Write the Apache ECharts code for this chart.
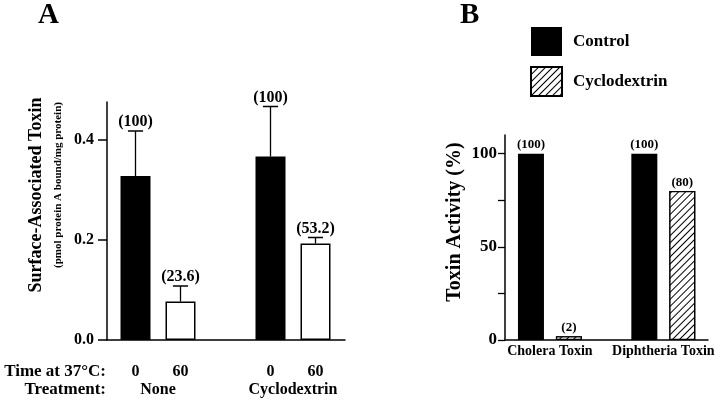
<!DOCTYPE html>
<html>
<head>
<meta charset="utf-8">
<script src="https://cdn.jsdelivr.net/npm/echarts@6/dist/echarts.min.js"></script>
<style>html,body{margin:0;padding:0;background:#fff}#c{width:720px;height:403px}</style>
</head>
<body>
<div id="c"></div>
<script>
// ---- Panel A data ----
const treatmentsA = ['None', 'Cyclodextrin'];
const timesA = ['0', '60'];
const mean0 = [0.328, 0.367];
const err0 = [0.090, 0.100];
const pct0 = ['(100)', '(100)'];
const mean60 = [0.077, 0.193];
const err60 = [0.031, 0.012];
const pct60 = ['(23.6)', '(53.2)'];
const ticksA = [0, 0.2, 0.4];

// ---- Panel B data ----
const toxinsB = ['Cholera Toxin', 'Diphtheria Toxin'];
const controlB = [100, 100];
const cycloB = [2, 80];
const ticksB = [0, 50, 100];
const minorTicksB = [0, 25, 50, 75, 100];

const FF = '"Liberation Serif", "DejaVu Serif", serif';
const chart = echarts.init(document.getElementById('c'));

const yMaxA = 0.476, yMaxB = 110;

function errSeries(means, errs, labels, sign, xIdx, yIdx) {
  return {
    type: 'custom', xAxisIndex: xIdx, yAxisIndex: yIdx, z: 5,
    data: means.map((m, i) => [i, m, errs[i]]),
    renderItem: function (params, api) {
      const c = api.value(0), m = api.value(1), e = api.value(2);
      const band = api.size([1, 0])[0];
      const base = api.coord([c, m]);
      const top = api.coord([c, m + e]);
      const x = base[0] + sign * band / 6;
      const half = band * 0.056;
      return {
        type: 'group',
        children: [
          {type: 'line', shape: {x1: x, y1: base[1], x2: x, y2: top[1]}, style: {stroke: '#000', lineWidth: 1.3}},
          {type: 'line', shape: {x1: x - half, y1: top[1], x2: x + half, y2: top[1]}, style: {stroke: '#000', lineWidth: 1.5}},
          {type: 'text', style: {x: x, y: top[1] - 9, text: labels[params.dataIndex], align: 'center', verticalAlign: 'middle',
            font: 'bold 16px ' + FF, fill: '#000'}}
        ]
      };
    }
  };
}

const hatch = {
  symbol: 'rect', symbolSize: 1, color: '#000', backgroundColor: '#fff',
  dashArrayX: [1, 0], dashArrayY: [1, 3.2], rotation: -Math.PI / 4
};

const labelTime = (name) => ({
  show: true, position: ['50%', '100%'], offset: [0, 32], align: 'center', verticalAlign: 'middle',
  formatter: name, fontFamily: FF, fontWeight: 'bold', fontSize: 16, color: '#000'
});

const option = {
  animation: false,
  backgroundColor: '#fff',
  textStyle: {fontFamily: FF},
  grid: [
    {left: 107, width: 238, top: 102, bottom: 63},      // A frame
    {left: 90.5, width: 270, top: 102, bottom: 63},     // A bars
    {left: 505, width: 203, top: 135, bottom: 63},      // B frame
    {left: 493.25, width: 228, top: 135, bottom: 63}    // B bars
  ],
  xAxis: [
    {gridIndex: 0, type: 'value', min: 0, max: 1, axisLine: {lineStyle: {color: '#000', width: 1.5}},
      axisTick: {show: false}, axisLabel: {show: false}, splitLine: {show: false}},
    {gridIndex: 1, type: 'category', data: treatmentsA, axisLine: {show: false}, axisTick: {show: false},
      axisLabel: {interval: 0, margin: 42, fontFamily: FF, fontWeight: 'bold', fontSize: 16, color: '#000'}},
    {gridIndex: 2, type: 'value', min: 0, max: 1, axisLine: {lineStyle: {color: '#000', width: 1.5}},
      axisTick: {show: false}, axisLabel: {show: false}, splitLine: {show: false}},
    {gridIndex: 3, type: 'category', data: toxinsB, axisLine: {show: false}, axisTick: {show: false},
      axisLabel: {interval: 0, hideOverlap: false, margin: 4, fontFamily: FF, fontWeight: 'bold', fontSize: 14, color: '#000'}}
  ],
  yAxis: [
    {gridIndex: 0, type: 'value', min: 0, max: yMaxA, splitLine: {show: false},
      axisLine: {show: true, lineStyle: {color: '#000', width: 1.5}},
      axisTick: {show: true, length: 9, customValues: ticksA, lineStyle: {color: '#000', width: 1.5}},
      axisLabel: {customValues: ticksA, margin: 13, formatter: v => v.toFixed(1), fontFamily: FF, fontWeight: 'bold', fontSize: 16, color: '#000'}},
    {gridIndex: 1, type: 'value', min: 0, max: yMaxA, show: false},
    {gridIndex: 2, type: 'value', min: 0, max: yMaxB, splitLine: {show: false},
      axisLine: {show: true, lineStyle: {color: '#000', width: 1.5}},
      axisTick: {show: true, length: 7, customValues: minorTicksB, lineStyle: {color: '#000', width: 1.3}},
      axisLabel: {customValues: ticksB, margin: 8, fontFamily: FF, fontWeight: 'bold', fontSize: 17, color: '#000'}},
    {gridIndex: 3, type: 'value', min: 0, max: yMaxB, show: false}
  ],
  legend: {
    orient: 'vertical', left: 530, top: 27, padding: 0, itemWidth: 31, itemHeight: 29, itemGap: 10,
    icon: 'rect', data: ['Control', 'Cyclodextrin'],
    textStyle: {fontFamily: FF, fontWeight: 'bold', fontSize: 17, color: '#000', padding: [0, 0, 0, 6]}
  },
  series: [
    {name: 'A0', type: 'bar', xAxisIndex: 1, yAxisIndex: 1, data: mean0, barWidth: 30, barGap: '50%',
      itemStyle: {color: '#000'}, label: labelTime(timesA[0])},
    {name: 'A60', type: 'bar', xAxisIndex: 1, yAxisIndex: 1, data: mean60, barWidth: 30, barGap: '50%',
      itemStyle: {color: '#fff', borderColor: '#000', borderWidth: 1.5}, label: labelTime(timesA[1])},
    errSeries(mean0, err0, pct0, -1, 1, 1),
    errSeries(mean60, err60, pct60, 1, 1, 1),
    {name: 'Control', type: 'bar', xAxisIndex: 3, yAxisIndex: 3, data: controlB, barWidth: 26, barGap: '46%',
      itemStyle: {color: '#000'},
      label: {show: true, position: 'top', distance: 2, formatter: p => '(' + p.value + ')', fontFamily: FF, fontWeight: 'bold', fontSize: 13, color: '#000'}},
    {name: 'Cyclodextrin', type: 'bar', xAxisIndex: 3, yAxisIndex: 3, data: cycloB, barWidth: 26, barGap: '46%',
      itemStyle: {color: '#fff', borderColor: '#000', borderWidth: 1.3, decal: hatch},
      label: {show: true, position: 'top', distance: 2, formatter: p => '(' + p.value + ')', fontFamily: FF, fontWeight: 'bold', fontSize: 13, color: '#000'}}
  ],
  graphic: [
    {type: 'text', left: 38, top: 1, style: {text: 'A', font: 'bold 29px ' + FF, fill: '#000'}},
    {type: 'text', left: 460, top: 1, style: {text: 'B', font: 'bold 29px ' + FF, fill: '#000'}},
    {type: 'text', x: 36, y: 195, rotation: Math.PI / 2,
      style: {text: 'Surface-Associated Toxin', font: 'bold 18px ' + FF, fill: '#000', align: 'center', verticalAlign: 'middle'}},
    {type: 'text', x: 58, y: 185, rotation: Math.PI / 2,
      style: {text: '(pmol protein A bound/mg protein)', font: 'bold 11px ' + FF, fill: '#000', align: 'center', verticalAlign: 'middle'}},
    {type: 'text', x: 455, y: 222, rotation: Math.PI / 2,
      style: {text: 'Toxin Activity (%)', font: 'bold 20px ' + FF, fill: '#000', align: 'center', verticalAlign: 'middle'}},
    {type: 'text', x: 106, y: 372,
      style: {text: 'Time at 37\u00b0C:', font: 'bold 17px ' + FF, fill: '#000', align: 'right', verticalAlign: 'middle'}},
    {type: 'text', x: 106, y: 390,
      style: {text: 'Treatment:', font: 'bold 17px ' + FF, fill: '#000', align: 'right', verticalAlign: 'middle'}}
  ]
};
chart.setOption(option);
</script>
</body>
</html>
